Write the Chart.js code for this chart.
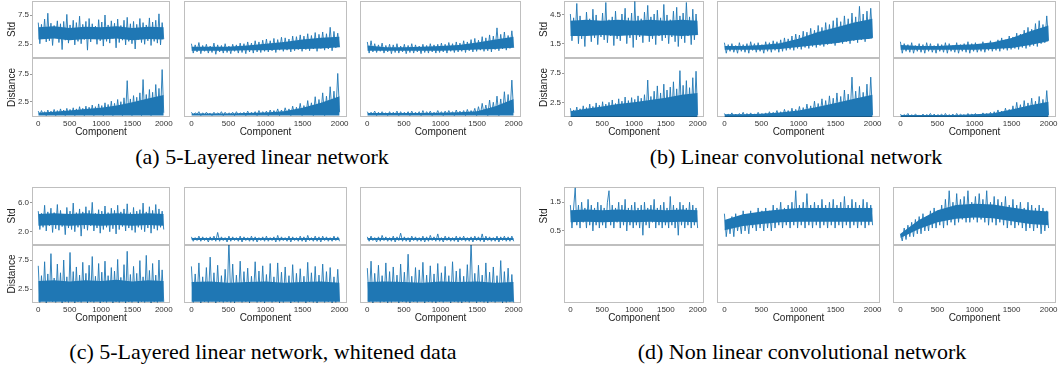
<!DOCTYPE html>
<html>
<head>
<meta charset="utf-8">
<script src="https://cdn.jsdelivr.net/npm/chart.js@4.4.0/dist/chart.umd.min.js"></script>
<style>
body { margin: 0; background: #fff; width: 1058px; height: 370px; position: relative; overflow: hidden; }
canvas { position: absolute; }
.cap { position: absolute; font-family: "Liberation Serif", "Times New Roman", serif; font-size: 22px; line-height: 24px; color: #000; white-space: nowrap; transform: translateX(-50%); }
</style>
</head>
<body>
<div class="cap" style="left:262px;top:145px">(a) 5-Layered linear network</div>
<div class="cap" style="left:796px;top:145px">(b) Linear convolutional network</div>
<div class="cap" style="left:263px;top:340px">(c) 5-Layered linear network, whitened data</div>
<div class="cap" style="left:802px;top:340px">(d) Non linear convolutional network</div>
<script>
// Component axis ticks
const componentTicks = [0, 500, 1000, 1500, 2000];
const nPoints = 80;
const component = Array.from({ length: nPoints }, (_, i) => Math.round(i * 1999 / (nPoints - 1)));
const bandComponents = [0, 250, 500, 750, 1000, 1250, 1500, 1750, 1999];

// y tick labels per sub-figure
const stdTicksA = [2.5, 7.5];
const stdTicksB = [1.5, 4.5];
const stdTicksC = [2.0, 6.0];
const stdTicksD = [0.5, 1.5];
const distTicks = [2.5, 7.5];

// (a) 5-layered linear network
const aStd1 = [6.2,2.6,5.9,3.4,6.8,2.9,7.8,3.1,6.1,2.3,5.7,3.6,6.5,2.8,6.0,1.6,6.4,3.2,7.6,2.7,
  5.8,3.5,6.6,2.4,6.2,3.0,7.3,2.6,5.9,3.3,6.4,1.5,6.9,2.9,6.0,3.4,5.6,2.5,6.7,3.1,
  6.3,2.2,7.5,3.0,5.8,2.7,6.5,3.5,6.1,1.9,6.8,2.8,5.7,3.2,6.6,2.4,7.1,3.0,6.0,2.6,
  6.4,1.7,5.9,3.3,6.9,2.8,6.2,2.5,5.8,3.1,7.0,2.3,6.3,3.0,6.6,2.7,7.7,2.4,6.2,3.4];
const aStd2 = [2.6,1.0,2.4,1.2,2.8,0.9,2.3,1.3,2.5,1.0,2.2,1.1,2.7,0.8,2.4,1.2,2.3,1.0,2.6,1.1,
  2.2,0.9,2.5,1.3,2.4,1.0,2.7,1.1,2.6,0.9,2.9,1.2,2.7,1.0,3.1,1.2,2.9,1.1,3.2,1.3,
  3.4,1.2,3.1,1.4,3.5,1.1,3.3,1.5,3.7,1.3,3.6,1.5,3.4,1.2,3.9,1.4,3.8,1.6,4.1,1.3,
  3.9,1.6,4.3,1.4,4.0,1.7,4.5,1.3,4.2,1.8,4.6,1.5,4.3,1.7,5.4,1.4,4.7,1.9,4.4,2.0];
const aStd3 = [2.9,1.0,3.1,1.2,2.6,1.1,2.4,1.3,2.7,1.0,2.3,1.2,2.5,0.9,2.4,1.1,2.6,1.0,2.2,1.2,
  2.5,0.9,2.3,1.1,2.6,1.0,2.4,1.2,2.2,0.9,2.5,1.1,2.3,1.0,2.6,1.2,2.4,1.0,2.5,1.1,
  2.7,1.2,2.5,1.0,2.8,1.3,2.6,1.1,2.9,1.2,2.7,1.3,3.1,1.1,2.9,1.4,3.3,1.2,3.5,1.3,
  3.2,1.5,3.8,1.3,3.6,1.4,4.1,1.2,3.9,1.6,5.3,1.4,4.2,1.7,4.6,1.5,4.0,1.8,4.8,1.9];
const aDist1 = [0.8,0.1,0.9,0.2,0.7,0.0,1.0,0.1,0.8,0.2,1.1,0.0,0.9,0.1,1.2,0.2,1.0,0.0,1.3,0.1,
  1.1,0.2,1.4,0.0,1.2,0.1,1.6,0.2,1.3,0.0,1.7,0.1,1.5,0.2,1.9,0.0,1.6,0.1,2.1,0.2,
  1.8,0.0,2.3,0.1,2.0,0.2,2.6,0.0,2.2,0.1,2.9,0.2,2.5,0.0,3.2,0.1,6.3,0.2,3.0,0.0,
  3.6,0.1,3.3,0.2,4.1,0.0,6.5,0.1,3.8,0.2,4.7,0.0,4.2,0.1,5.6,0.3,4.9,0.2,8.3,0.5];
const aDist2 = [0.6,0.1,0.5,0.2,0.7,0.0,0.5,0.1,0.6,0.2,0.4,0.0,0.6,0.1,0.5,0.2,0.7,0.0,0.6,0.1,
  0.5,0.2,0.6,0.0,0.7,0.1,0.5,0.2,0.6,0.0,0.8,0.1,0.6,0.2,0.7,0.0,0.9,0.1,0.7,0.2,
  0.8,0.0,1.0,0.1,0.9,0.2,1.2,0.0,1.0,0.1,1.4,0.2,1.2,0.0,1.7,0.1,1.5,0.2,2.2,0.0,
  1.8,0.1,2.7,0.2,2.3,0.0,3.4,0.1,2.9,0.2,4.1,0.0,3.5,0.1,5.2,0.3,4.4,0.2,7.6,0.6];
const aDist3 = [0.7,0.1,0.6,0.2,0.8,0.0,0.6,0.1,0.7,0.2,0.5,0.0,0.7,0.1,0.6,0.2,0.8,0.0,0.7,0.1,
  0.6,0.2,0.7,0.0,0.8,0.1,0.6,0.2,0.7,0.0,0.9,0.1,0.7,0.2,0.8,0.0,0.6,0.1,0.9,0.2,
  0.7,0.0,0.8,0.1,0.9,0.2,0.7,0.0,1.0,0.1,0.8,0.2,0.9,0.0,1.1,0.1,0.9,0.2,1.3,0.0,
  1.6,0.1,2.2,0.2,1.9,0.0,2.8,0.1,2.4,0.2,3.5,0.0,3.0,0.1,4.3,0.3,3.8,0.2,6.4,0.5];
// dense core of each (a) trace: low / high edge
const aStd1Low = [3.3,3.5,3.2,3.4,3.3,3.5,3.2,3.4,3.3], aStd1High = [5.4,5.6,5.3,5.5,5.4,5.6,5.3,5.5,5.4];
const aStd2Low = [1.4,1.4,1.4,1.5,1.5,1.6,1.7,1.8,2.0], aStd2High = [2.1,2.1,2.1,2.3,2.6,2.9,3.3,3.6,3.8];
const aStd3Low = [1.4,1.4,1.4,1.4,1.4,1.5,1.6,1.7,1.9], aStd3High = [2.3,2.0,2.0,2.1,2.2,2.4,2.8,3.3,3.8];
const aDist1Low = [0,0,0,0,0,0,0,0,0], aDist1High = [0.5,0.7,0.9,1.2,1.4,1.8,2.4,3.1,3.7];
const aDist2Low = [0,0,0,0,0,0,0,0,0], aDist2High = [0.35,0.35,0.35,0.45,0.55,0.8,1.4,2.3,3.5];
const aDist3Low = [0,0,0,0,0,0,0,0,0], aDist3High = [0.45,0.45,0.45,0.45,0.5,0.6,0.8,1.7,3.0];

// (b) linear convolutional network
const bStd1 = [4.6,1.8,4.2,2.3,5.7,1.5,4.4,2.0,3.9,1.2,4.8,2.4,4.1,1.7,5.1,2.1,4.5,1.4,3.8,2.2,
  4.7,1.9,5.8,1.6,4.0,2.3,4.3,1.3,4.9,2.0,3.9,1.8,4.6,2.5,5.2,1.5,4.2,2.1,4.7,1.1,
  5.9,1.9,4.4,2.2,4.1,1.6,4.8,2.4,5.5,1.7,4.3,2.0,4.6,1.4,5.0,2.3,4.2,1.8,5.6,2.1,
  4.5,1.5,4.0,2.2,4.9,1.7,5.3,1.2,4.4,2.0,4.7,1.6,5.8,2.3,4.3,1.4,5.1,1.9,4.6,2.4];
const bStd2 = [1.6,0.5,1.4,0.7,1.5,0.6,1.3,0.5,1.6,0.7,1.4,0.6,1.5,0.5,1.7,0.8,1.5,0.6,1.6,0.7,
  1.4,0.5,1.7,0.7,1.6,0.6,1.8,0.8,1.7,0.6,1.9,0.7,2.1,0.8,2.0,0.9,2.3,0.8,2.5,1.0,
  2.4,0.9,2.8,1.1,2.7,1.0,3.1,1.2,2.9,1.1,3.4,1.3,3.2,1.2,3.7,1.4,3.5,1.5,3.9,1.3,
  4.2,1.6,3.8,1.5,4.4,1.7,4.1,1.5,4.7,1.8,4.3,1.6,5.4,1.9,4.6,1.7,4.9,2.0,5.2,2.1];
const bStd3 = [1.7,0.5,1.5,0.7,1.4,0.6,1.6,0.5,1.3,0.7,1.5,0.6,1.4,0.5,1.6,0.7,1.5,0.6,1.3,0.5,
  1.5,0.7,1.4,0.6,1.6,0.5,1.5,0.7,1.3,0.6,1.6,0.5,1.4,0.7,1.5,0.6,1.7,0.5,1.5,0.7,
  1.6,0.6,1.4,0.7,1.7,0.6,1.5,0.8,1.8,0.7,1.6,0.8,1.9,0.7,2.1,0.9,1.9,0.8,2.3,0.9,
  2.2,1.0,2.6,0.9,2.5,1.1,2.9,1.0,3.2,1.2,3.0,1.3,3.6,1.2,3.9,1.5,3.5,1.6,4.4,1.8];
const bDist1 = [1.5,0.1,1.2,0.2,1.7,0.0,1.4,0.1,1.9,0.2,1.6,0.0,2.2,0.1,1.8,0.2,2.4,0.0,2.0,0.1,
  2.6,0.2,2.2,0.0,2.5,0.1,2.9,0.2,2.3,0.0,3.1,0.1,2.7,0.2,3.4,0.0,2.8,0.1,3.3,0.2,
  3.0,0.0,3.6,0.1,3.2,0.2,3.8,0.0,6.3,0.1,3.5,0.2,4.4,0.0,5.3,0.1,4.1,0.2,5.6,0.0,
  4.6,0.1,5.1,0.2,6.0,0.0,4.8,0.1,7.9,0.2,5.4,0.0,6.2,0.1,5.0,0.2,6.7,0.0,7.8,0.3];
const bDist2 = [0.6,0.1,0.5,0.2,0.7,0.0,0.5,0.1,0.6,0.2,0.8,0.0,0.6,0.1,0.7,0.2,0.5,0.0,0.8,0.1,
  0.6,0.2,0.7,0.0,0.9,0.1,0.8,0.2,1.1,0.0,0.9,0.1,1.3,0.2,1.1,0.0,1.5,0.1,1.3,0.2,
  1.8,0.0,1.6,0.1,2.2,0.2,1.9,0.0,2.7,0.1,2.3,0.2,3.1,0.0,2.8,0.1,3.6,0.2,3.2,0.0,
  4.1,0.1,3.5,0.2,4.6,0.0,3.9,0.1,6.8,0.2,4.4,0.0,5.2,0.1,4.2,0.2,5.6,0.0,6.8,0.3];
const bDist3 = [0.5,0.1,0.4,0.2,0.6,0.0,0.4,0.1,0.5,0.2,0.3,0.0,0.5,0.1,0.4,0.2,0.6,0.0,0.5,0.1,
  0.4,0.2,0.5,0.0,0.6,0.1,0.4,0.2,0.5,0.0,0.6,0.1,0.5,0.2,0.4,0.0,0.6,0.1,0.5,0.2,
  0.6,0.0,0.5,0.1,0.7,0.2,0.6,0.0,0.8,0.1,0.9,0.2,1.2,0.0,1.0,0.1,1.5,0.2,1.3,0.0,
  1.9,0.1,2.5,0.2,2.1,0.0,2.8,0.1,2.4,0.2,3.2,0.0,2.7,0.1,3.5,0.2,3.0,0.0,4.5,0.3];
const bStd1Low = [2.3,2.3,2.4,2.3,2.4,2.3,2.4,2.3,2.4], bStd1High = [3.9,4.0,3.9,4.0,3.9,4.0,3.9,4.0,3.9];
const bStd2Low = [0.85,0.85,0.85,0.95,1.15,1.35,1.55,1.85,2.05], bStd2High = [1.25,1.25,1.35,1.55,2.0,2.7,3.2,3.7,4.1];
const bStd3Low = [0.85,0.85,0.85,0.85,0.85,0.95,1.05,1.35,1.75], bStd3High = [1.35,1.25,1.25,1.35,1.45,1.65,2.1,2.8,3.4];
const bDist1Low = [0,0,0,0,0,0,0,0,0], bDist1High = [1.0,1.4,1.8,2.2,2.5,2.9,3.3,3.8,4.1];
const bDist2Low = [0,0,0,0,0,0,0,0,0], bDist2High = [0.45,0.45,0.55,0.75,1.1,1.7,2.4,3.1,3.8];
const bDist3Low = [0,0,0,0,0,0,0,0,0], bDist3High = [0.35,0.35,0.35,0.35,0.45,0.65,1.3,2.0,2.6];

// (c) 5-layered linear network, whitened data
const cStd1 = [4.8,2.3,4.5,2.6,5.6,2.1,4.7,2.8,5.2,1.9,4.6,2.4,5.7,2.2,4.9,2.7,4.4,1.6,5.3,2.5,
  4.8,2.3,5.9,2.0,4.6,2.6,5.1,1.4,4.7,2.4,5.4,2.2,4.9,2.8,6.0,2.1,4.5,2.5,5.0,1.8,
  4.8,2.3,5.5,2.6,4.6,2.0,5.2,2.4,4.9,1.7,5.6,2.3,4.7,2.7,5.1,2.1,5.8,2.5,4.6,2.2,
  5.3,1.9,4.8,2.6,5.0,2.3,5.9,2.0,4.7,2.5,5.4,1.8,4.9,2.4,5.7,2.2,5.1,2.6,4.8,2.3];
const cStd2 = [1.3,0.7,1.2,0.8,1.4,0.7,1.3,0.8,1.2,0.6,1.3,0.8,1.4,0.7,1.9,0.7,1.3,0.8,1.2,0.6,
  1.4,0.7,1.3,0.8,1.2,0.7,1.4,0.6,1.3,0.8,1.2,0.7,1.4,0.7,1.3,0.6,1.2,0.8,1.3,0.7,
  1.4,0.7,1.2,0.8,1.3,0.6,1.5,0.7,1.3,0.8,1.2,0.7,1.4,0.6,1.3,0.8,1.2,0.7,1.4,0.7,
  1.3,0.6,1.5,0.8,1.2,0.7,1.4,0.7,1.3,0.6,1.4,0.8,1.3,0.7,1.2,0.7,1.4,0.8,1.3,0.7];
const cStd3 = [1.3,0.7,1.4,0.8,1.2,0.6,1.3,0.7,1.5,0.8,1.3,0.7,1.2,0.7,1.4,0.6,1.3,0.8,1.8,0.7,
  1.3,0.7,1.2,0.6,1.4,0.8,1.3,0.7,1.2,0.7,1.4,0.6,1.3,0.7,1.5,0.8,1.3,0.7,1.7,0.7,
  1.2,0.6,1.4,0.8,1.3,0.7,1.2,0.7,1.4,0.6,1.3,0.8,1.4,0.7,1.2,0.7,1.3,0.6,1.4,0.8,
  1.3,0.7,1.7,0.6,1.4,0.8,1.3,0.7,1.2,0.7,1.4,0.6,1.3,0.8,1.4,0.7,1.3,0.7,1.4,0.7];
const cDist1 = [6.5,0.2,4.8,0.6,7.2,0.1,5.1,0.4,8.6,0.3,4.4,0.2,6.8,0.5,5.3,0.1,7.5,0.3,4.6,0.2,
  8.8,0.4,5.5,0.1,6.3,0.3,4.9,0.2,7.1,0.5,5.2,0.1,6.6,0.3,8.1,0.2,4.7,0.4,6.9,0.1,
  5.4,0.3,7.3,0.2,4.8,0.5,6.2,0.1,5.6,0.3,7.6,0.2,4.5,0.4,6.7,0.1,9.0,0.3,5.0,0.2,
  6.4,0.5,5.2,0.1,7.4,0.3,4.6,0.2,8.3,0.4,5.7,0.1,6.9,0.3,4.9,0.2,7.5,0.4,5.8,0.3];
const cDist2 = [6.4,0.2,5.1,0.5,7.0,0.1,4.6,0.3,6.2,0.2,8.0,0.4,5.3,0.1,6.6,0.3,4.8,0.2,5.9,0.3,
  11.0,0.2,6.8,0.1,4.9,0.4,7.3,0.2,5.5,0.3,6.1,0.1,4.7,0.5,7.2,0.2,5.6,0.3,6.5,0.1,
  5.0,0.4,6.9,0.2,4.6,0.3,7.0,0.1,5.4,0.2,6.3,0.5,4.8,0.1,6.7,0.3,5.2,0.2,6.0,0.4,
  4.7,0.1,7.1,0.3,5.3,0.2,6.4,0.1,4.9,0.4,6.8,0.2,5.5,0.3,6.2,0.1,4.6,0.2,5.9,0.3];
const cDist3 = [6.1,0.3,7.3,0.1,5.2,0.4,6.6,0.2,4.8,0.3,7.0,0.1,5.5,0.2,6.3,0.4,4.9,0.1,6.8,0.3,
  5.4,0.2,8.5,0.1,4.7,0.3,6.2,0.2,5.8,0.4,7.1,0.1,4.9,0.3,6.5,0.2,5.1,0.1,6.9,0.3,
  5.3,0.2,6.4,0.4,4.8,0.1,7.2,0.3,5.6,0.2,6.0,0.1,4.7,0.3,6.7,0.2,11.0,0.4,
  5.2,0.1,6.6,0.3,4.9,0.2,7.0,0.1,5.4,0.3,6.3,0.2,4.8,0.4,7.4,0.1,5.5,0.2,6.1,0.3,5.0,0.2];
const cStd1Low = [2.8,2.9,2.8,2.9,2.8,2.9,2.8,2.9,2.8], cStd1High = [4.4,4.5,4.4,4.5,4.4,4.5,4.4,4.5,4.4];
const cStd2Low = [0.88,0.88,0.88,0.88,0.88,0.88,0.88,0.88,0.88], cStd2High = [1.15,1.15,1.15,1.15,1.15,1.15,1.15,1.15,1.15];
const cStd3Low = [0.88,0.88,0.88,0.88,0.88,0.88,0.88,0.88,0.88], cStd3High = [1.15,1.15,1.15,1.15,1.15,1.15,1.15,1.15,1.15];
const cDist1Low = [0.3,0.3,0.3,0.3,0.3,0.3,0.3,0.3,0.3], cDist1High = [3.9,4.0,3.8,4.0,3.9,4.1,3.8,4.0,3.9];
const cDist2Low = [0.3,0.3,0.3,0.3,0.3,0.3,0.3,0.3,0.3], cDist2High = [3.7,3.8,3.6,3.7,3.8,3.6,3.7,3.8,3.6];
const cDist3Low = [0.3,0.3,0.3,0.3,0.3,0.3,0.3,0.3,0.3], cDist3High = [3.7,3.8,3.7,3.6,3.8,3.7,3.8,3.6,3.7];

// (d) non linear convolutional network
const dStd1 = [1.4,0.6,1.3,2.0,0.7,1.4,0.6,1.5,0.8,1.3,0.6,1.6,0.7,1.4,0.5,1.3,0.7,1.5,0.6,1.4,
  0.7,1.3,0.6,1.5,1.9,0.7,1.4,0.6,1.3,0.8,1.5,0.6,1.4,0.7,1.6,0.5,1.3,0.7,1.4,0.6,
  1.5,0.7,1.3,0.6,1.4,0.35,1.5,0.7,1.3,0.6,1.4,0.8,1.6,0.6,1.3,0.7,1.4,0.6,1.5,0.7,
  1.3,0.6,1.7,0.7,1.4,0.6,1.3,0.35,1.5,0.7,1.4,0.6,1.3,0.7,1.5,0.6,1.4,0.7,1.3,0.6];
const dStd2 = [1.1,0.3,0.9,0.4,1.0,0.3,1.1,0.5,0.9,0.4,1.2,0.5,1.0,0.4,1.2,0.6,1.1,0.5,1.3,0.6,
  1.2,0.5,1.3,0.6,1.2,0.5,1.4,0.6,1.3,0.7,1.5,0.6,1.3,0.7,1.4,0.6,1.5,0.7,1.9,0.6,
  1.4,0.7,1.5,0.6,1.8,0.7,1.4,0.6,1.5,0.7,1.4,0.6,1.6,0.7,1.4,0.6,1.5,0.7,1.6,0.6,
  1.4,0.7,1.5,0.6,1.7,0.7,1.4,0.6,1.6,0.7,1.5,0.6,1.4,0.7,1.6,0.6,1.5,0.7,1.4,0.7];
const dStd3 = [0.4,0.15,0.6,0.2,0.7,0.3,0.8,0.3,0.9,0.4,1.0,0.4,1.1,0.5,1.0,0.5,1.2,0.6,1.3,0.6,
  1.2,0.7,1.4,0.6,1.6,0.7,1.9,0.8,1.5,0.7,1.8,0.8,1.6,0.9,1.7,0.8,1.9,0.8,1.5,0.9,
  1.7,0.8,1.8,0.9,1.6,0.8,1.9,0.7,1.5,0.8,1.7,0.7,1.6,0.8,1.5,0.7,1.7,0.6,1.4,0.7,
  1.6,0.6,1.4,0.7,1.5,0.6,1.3,0.5,1.5,0.6,1.4,0.5,1.3,0.6,1.4,0.4,1.3,0.5,1.2,0.6];
const dStd1Low = [0.8,0.82,0.8,0.82,0.8,0.82,0.8,0.82,0.8], dStd1High = [1.22,1.25,1.22,1.25,1.22,1.25,1.22,1.25,1.22];
const dStd2Low = [0.52,0.67,0.74,0.8,0.82,0.82,0.82,0.82,0.82], dStd2High = [0.88,1.08,1.18,1.25,1.3,1.3,1.3,1.3,1.3];
const dStd3Low = [0.25,0.57,0.8,0.92,0.97,0.94,0.84,0.74,0.7], dStd3High = [0.4,0.88,1.22,1.4,1.45,1.42,1.32,1.22,1.18];

const sans = '"Liberation Sans", Arial, sans-serif';
const lineColor = '#1f77b4';

// draws the axes frame; alpha so the shared edge between rows comes out darker
const frame = {
    id: 'frame',
    afterDraw(chart) {
        const a = chart.chartArea;
        const ctx = chart.ctx;
        ctx.save();
        ctx.strokeStyle = 'rgba(0,0,0,0.25)';
        ctx.lineWidth = 1;
        ctx.strokeRect(Math.round(a.left) + 0.5, Math.round(a.top) + 0.5,
            Math.round(a.right - a.left) - 1, Math.round(a.bottom - a.top) - 1);
        ctx.restore();
    }
};

function panel(box, values, low, high, yMin, yMax, yTicks, yTitle, xAxis) {
    // box = [left, top, right, bottom] of the plotting area in page pixels
    const padL = yTitle ? 32 : 2, padR = 10, padT = 2, padB = xAxis ? 24 : 2;
    const w = box[2] - box[0], h = box[3] - box[1];
    const canvas = document.createElement('canvas');
    canvas.width = w + padL + padR;
    canvas.height = h + padT + padB;
    canvas.style.left = (box[0] - padL) + 'px';
    canvas.style.top = (box[1] - padT) + 'px';
    document.body.appendChild(canvas);

    const datasets = [];
    if (values) {
        // dense core of the trace
        datasets.push({
            data: low.map((v, i) => ({ x: bandComponents[i], y: v })),
            borderWidth: 0, pointRadius: 0, fill: false
        });
        datasets.push({
            data: high.map((v, i) => ({ x: bandComponents[i], y: v })),
            borderWidth: 0, pointRadius: 0, fill: '-1', backgroundColor: lineColor
        });
        // the trace itself
        datasets.push({
            data: values.map((v, i) => ({ x: component[i], y: v })),
            borderColor: lineColor, borderWidth: 0.9, pointRadius: 0, tension: 0, fill: false
        });
    }

    const xScale = {
        type: 'linear',
        min: -100,
        max: 2099,
        display: xAxis,
        grid: { display: false, drawTicks: false, tickLength: 0 },
        border: { display: false },
        afterBuildTicks: s => { s.ticks = componentTicks.map(v => ({ value: v })); },
        ticks: { font: { family: sans, size: 8 }, color: '#333', padding: 2, maxRotation: 0, autoSkip: false, callback: v => String(v) },
        title: { display: true, text: 'Component', font: { family: sans, size: 10 }, color: '#222', padding: { top: 0, bottom: 3 } }
    };
    if (xAxis) xScale.afterFit = s => { s.height = 24; s.paddingLeft = 0; s.paddingRight = 0; };

    const yScale = {
        type: 'linear',
        min: yMin,
        max: yMax,
        display: !!yTitle,
        grid: { drawOnChartArea: false, tickLength: 2, color: '#999' },
        border: { display: false },
        afterBuildTicks: s => { s.ticks = (yTicks || []).map(v => ({ value: v })); },
        ticks: { font: { family: sans, size: 8 }, color: '#333', padding: 1, callback: v => v.toFixed(1) },
        title: { display: !!yTitle, text: yTitle, font: { family: sans, size: 10 }, color: '#222', padding: { top: 6, bottom: 0 } }
    };
    // fixed axis width, and no extra room for the end labels
    if (yTitle) yScale.afterFit = s => { s.width = 32; s.paddingTop = 0; s.paddingBottom = 0; };

    new Chart(canvas, {
        type: 'line',
        data: { datasets: datasets },
        options: {
            responsive: false,
            animation: false,
            events: [],
            layout: { padding: { left: yTitle ? 0 : padL, right: padR, top: padT, bottom: xAxis ? 0 : padB } },
            plugins: { legend: { display: false }, tooltip: { enabled: false }, filler: { propagate: false } },
            scales: { x: xScale, y: yScale }
        },
        plugins: [frame]
    });
}

// (a)
panel([32, 1, 170, 58], aStd1, aStd1Low, aStd1High, 0.16, 9.89, stdTicksA, 'Std', false);
panel([184, 1, 347, 58], aStd2, aStd2Low, aStd2High, 0.16, 9.89, null, null, false);
panel([360, 1, 521, 58], aStd3, aStd3Low, aStd3High, 0.16, 9.89, null, null, false);
panel([32, 58, 170, 117], aDist1, aDist1Low, aDist1High, -0.26, 10.39, distTicks, 'Distance', true);
panel([184, 58, 347, 117], aDist2, aDist2Low, aDist2High, -0.26, 10.39, null, null, true);
panel([360, 58, 521, 117], aDist3, aDist3Low, aDist3High, -0.26, 10.39, null, null, true);

// (b)
panel([564, 1, 704, 58], bStd1, bStd1Low, bStd1High, 0.0, 5.96, stdTicksB, 'Std', false);
panel([717, 1, 880, 58], bStd2, bStd2Low, bStd2High, 0.0, 5.96, null, null, false);
panel([893, 1, 1056, 58], bStd3, bStd3Low, bStd3High, 0.0, 5.96, null, null, false);
panel([564, 58, 704, 117], bDist1, bDist1Low, bDist1High, 0.0, 10.06, distTicks, 'Distance', true);
panel([717, 58, 880, 117], bDist2, bDist2Low, bDist2High, 0.0, 10.06, null, null, true);
panel([893, 58, 1056, 117], bDist3, bDist3Low, bDist3High, 0.0, 10.06, null, null, true);

// (c)
panel([32, 187, 170, 245], cStd1, cStd1Low, cStd1High, 0.19, 8.09, stdTicksC, 'Std', false);
panel([184, 187, 347, 245], cStd2, cStd2Low, cStd2High, 0.19, 8.09, null, null, false);
panel([360, 187, 521, 245], cStd3, cStd3Low, cStd3High, 0.19, 8.09, null, null, false);
panel([32, 245, 170, 303], cDist1, cDist1Low, cDist1High, 0.09, 10.09, distTicks, 'Distance', true);
panel([184, 245, 347, 303], cDist2, cDist2Low, cDist2High, 0.09, 10.09, null, null, true);
panel([360, 245, 521, 303], cDist3, cDist3Low, cDist3High, 0.09, 10.09, null, null, true);

// (d) - lower row is empty
panel([564, 187, 704, 245], dStd1, dStd1Low, dStd1High, 0.01, 2.03, stdTicksD, 'Std', false);
panel([717, 187, 880, 245], dStd2, dStd2Low, dStd2High, 0.01, 2.03, null, null, false);
panel([893, 187, 1056, 245], dStd3, dStd3Low, dStd3High, 0.01, 2.03, null, null, false);
panel([564, 245, 704, 303], null, null, null, 0, 1, [], null, true);
panel([717, 245, 880, 303], null, null, null, 0, 1, null, null, true);
panel([893, 245, 1056, 303], null, null, null, 0, 1, null, null, true);
</script>
</body>
</html>
